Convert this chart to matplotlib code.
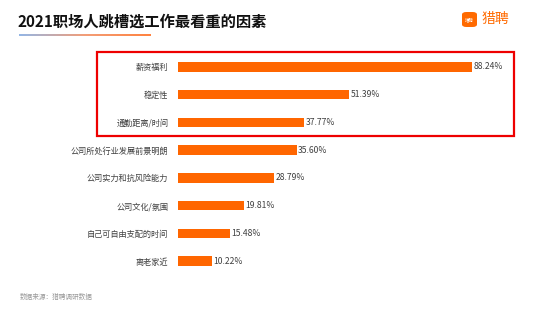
import numpy as np
import matplotlib
matplotlib.use('Agg')
from matplotlib import pyplot as plt
from matplotlib.patches import Rectangle, FancyBboxPatch
from matplotlib.collections import LineCollection
from matplotlib.colors import LinearSegmentedColormap

plt.rcParams['font.family'] = ['Noto Sans CJK SC', 'DejaVu Sans']

# 数据
categories = ['薪资福利', '稳定性', '通勤距离/时间', '公司所处行业发展前景明朗',
              '公司实力和抗风险能力', '公司文化/氛围', '自己可自由支配的时间', '离老家近']
values = [88.24, 51.39, 37.77, 35.60, 28.79, 19.81, 15.48, 10.22]

W, H = 556, 322
fig = plt.figure(figsize=(W / 100, H / 100), dpi=100)
fig.patch.set_facecolor('white')


def fx(px):
    return px / W


def fy(py):
    return 1 - py / H


# 坐标轴
ax = fig.add_axes([fx(178), fy(275), fx(511) - fx(178), fy(53) - fy(275)])
y = np.arange(len(categories))
ax.barh(y, values, height=0.34, color='#FF6600')
ax.set_xlim(0, 100)
ax.set_ylim(len(categories) - 0.5, -0.5)
ax.set_yticks(y)
ax.set_yticklabels(categories, fontsize=5.9, color='#404040')
ax.tick_params(axis='y', length=0, pad=7)
ax.set_xticks([])
for s in ax.spines.values():
    s.set_visible(False)

for i, v in enumerate(values):
    ax.text(v + 0.5, i, f'{v:.2f}%', va='center', ha='left', fontsize=6.2, color='#404040')

# 标题
fig.text(fx(18), fy(22), '2021职场人跳槽选工作最看重的因素', fontsize=11, fontweight='bold',
         color='#111111', va='center', ha='left')

# 标题下方渐变线
xs = np.linspace(fx(19), fx(151), 60)
segs = [[(xs[k], fy(35)), (xs[k + 1], fy(35))] for k in range(len(xs) - 1)]
cmap = LinearSegmentedColormap.from_list('g', ['#7FA8E0', '#F08A5D', '#FF6A1A'])
lc = LineCollection(segs, colors=cmap(np.linspace(0, 1, len(segs))), linewidths=1.2,
                    transform=fig.transFigure)
fig.add_artist(lc)

# 标志
logo = FancyBboxPatch((fx(462), fy(27)), fx(15), fy(12) - fy(27),
                      boxstyle='round,pad=0,rounding_size=0.008', transform=fig.transFigure,
                      facecolor='#FF6A00', edgecolor='none')
fig.add_artist(logo)
fig.text(fx(469.5), fy(19.5), '猎聘', fontsize=3.2, color='white', ha='center', va='center')
fig.text(fx(482), fy(19.5), '猎聘', fontsize=10, color='#FF6A00', ha='left', va='center')

# 红框
rect = Rectangle((fx(97), fy(136)), fx(514) - fx(97), fy(52) - fy(136), transform=fig.transFigure,
                 fill=False, edgecolor='#EE0000', linewidth=1.6)
fig.add_artist(rect)

# 数据来源
fig.text(fx(20), fy(297), '数据来源：猎聘调研数据', fontsize=4.8, color='#999999', ha='left', va='center')

fig.savefig('out.png', dpi=100)
